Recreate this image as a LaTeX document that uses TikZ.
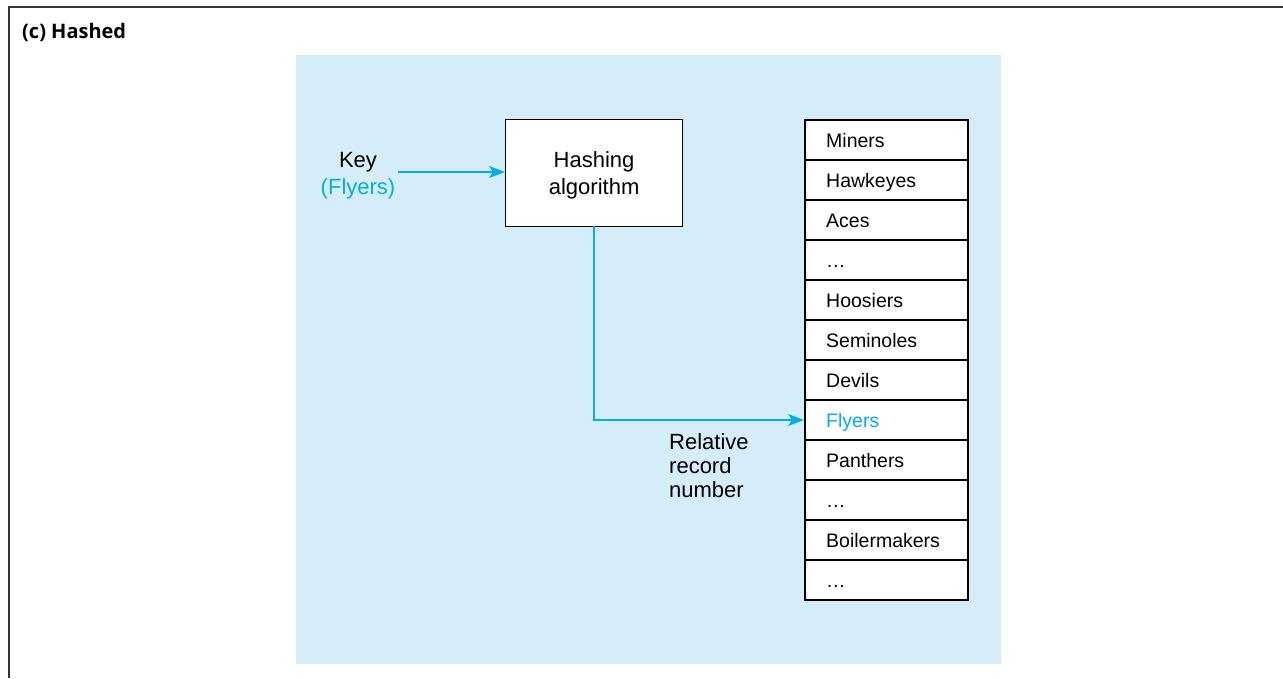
\documentclass[tikz,border=0pt]{standalone}
\usepackage{fontspec}
\setmainfont{Liberation Sans}
\newfontfamily\titlefont{Open Sans}
\usetikzlibrary{arrows.meta}
\definecolor{bgblue}{HTML}{D5EDF9}
\definecolor{cyanline}{HTML}{00AEEF}
\begin{document}
\begin{tikzpicture}[x=1pt,y=-1pt,
  rowbox/.style={draw=black,line width=2pt,fill=white,minimum width=163pt,minimum height=40pt,inner sep=0pt,anchor=north west},
  rowtext/.style={anchor=west,inner sep=0pt,text height=14pt,text depth=4pt,font=\fontsize{19.5}{22}\selectfont},
  lbl/.style={font=\fontsize{22}{27}\selectfont,align=center},
  conn/.style={cyanline,line width=1.4pt,-{Stealth[length=16pt,width=12pt,inset=4pt]}}]
\useasboundingbox (0,0) rectangle (1283,678);
% frame
\draw[line width=2pt,black!80] (9,678) -- (9,7) -- (1283,7);
\node[anchor=west,inner sep=0pt,font=\titlefont\bfseries\fontsize{20}{22}\selectfont] (title) at (22,32) {(c) Hashed};
% background
\fill[bgblue] (296,55) rectangle (1001,664);
% hashing box
\node[draw=black,line width=1.2pt,fill=white,minimum width=177pt,minimum height=107pt,inner sep=0pt,anchor=north west] (hash) at (505,119) {};
\node[lbl] (hashtxt) at ([yshift=-2pt]hash.center) {Hashing\\algorithm};
% key
\node[lbl] (key) at (358,176) {Key\\\textcolor{cyanline}{(Flyers)}};
% table
\foreach \i in {0,...,11}{
  \node[rowbox] (r\i) at (804,119+40*\i) {};
}
\foreach \t [count=\i from 0] in {Miners,Hawkeyes,Aces,\dots,Hoosiers,Seminoles,Devils,{\textcolor{cyanline}{Flyers}},Panthers,\dots,Boilermakers,\dots}{
  \node[rowtext] (t\i) at ([xshift=22pt,yshift=-2pt]r\i.west) {\t};
}
% connectors
\coordinate (ks) at (398,172);
\draw[conn] (ks) -- (hash.west |- ks);
\coordinate (hb) at (594,226);
\draw[conn] (hb) |- (r7.west);
\node[anchor=north west,align=left,inner sep=0pt,font=\fontsize{22}{24}\selectfont] (rrn) at (669,433) {Relative\\record\\number};
\end{tikzpicture}
\end{document}
